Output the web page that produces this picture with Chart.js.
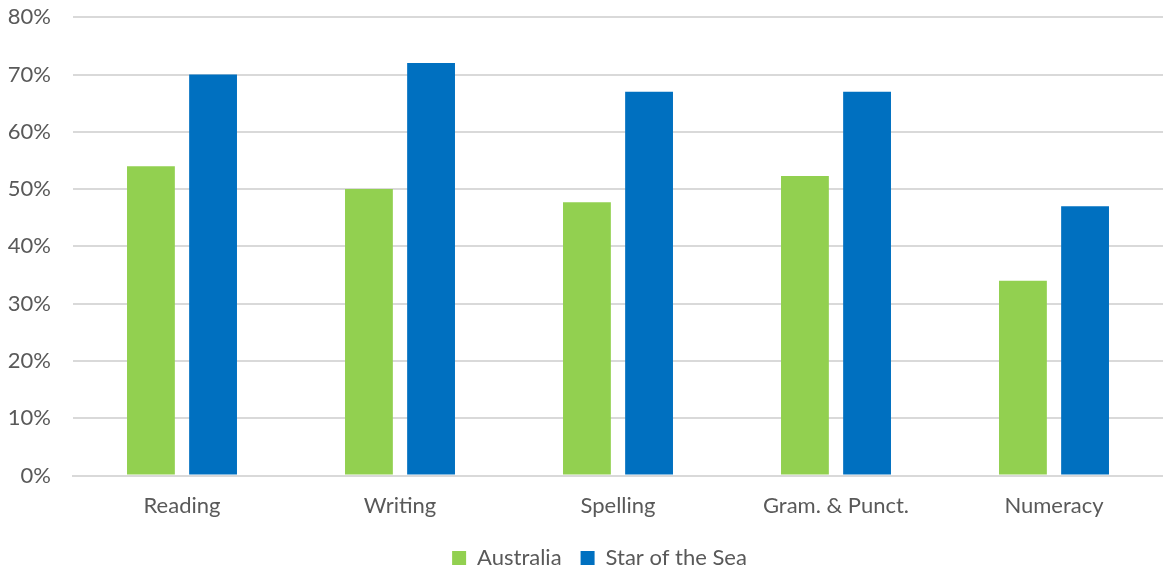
<!DOCTYPE html>
<html>
<head>
<meta charset="utf-8">
<script src="https://cdn.jsdelivr.net/npm/chart.js@4"></script>
<style>
  html, body { margin: 0; padding: 0; background: #fff; overflow: hidden; }
  #wrap { width: 1163px; height: 571px; overflow: hidden; }
  #chart { display: block; margin-top: -18px; }
</style>
</head>
<body>
<div id="wrap"><canvas id="chart" width="1163" height="597"></canvas></div>
<script>
const categories = ['Reading', 'Writing', 'Spelling', 'Gram. & Punct.', 'Numeracy'];
const australia = [54, 50, 47.7, 52.3, 34];
const starOfTheSea = [70, 72, 67, 67, 47];
const yTicks = [0, 10, 20, 30, 40, 50, 60, 70, 80];

const fontFamily = "Lato, 'Open Sans', sans-serif";
const textColor = '#595959';

// centre the legend a little right of the canvas middle, like the original
const legendShift = {
    id: 'legendShift',
    afterLayout(chart) {
        if (chart.legend) chart.legend.left += 30;
    }
};

document.addEventListener('DOMContentLoaded', function() {
    const ctx = document.querySelector('#chart').getContext('2d');
    new Chart(ctx, {
        type: 'bar',
        data: {
            labels: categories,
            datasets: [
                {
                    label: 'Australia',
                    data: australia,
                    backgroundColor: '#92D050',
                    barPercentage: 0.77,
                    categoryPercentage: 0.57
                },
                {
                    label: 'Star of the Sea',
                    data: starOfTheSea,
                    backgroundColor: '#0070C0',
                    barPercentage: 0.77,
                    categoryPercentage: 0.57
                }
            ]
        },
        plugins: [legendShift],
        options: {
            responsive: false,
            animation: false,
            layout: { padding: { top: 0, right: 0, left: 6, bottom: 0 } },
            plugins: {
                tooltip: { enabled: false },
                legend: {
                    position: 'bottom',
                    labels: {
                        boxWidth: 14,
                        boxHeight: 14,
                        padding: 19,
                        color: textColor,
                        font: { family: fontFamily, size: 22 }
                    }
                }
            },
            scales: {
                x: {
                    grid: { display: false },
                    border: { color: '#d9d9d9', width: 2 },
                    ticks: {
                        color: textColor,
                        padding: 9,
                        font: { family: fontFamily, size: 22 }
                    }
                },
                y: {
                    min: 0,
                    max: 80,
                    afterBuildTicks: function(axis) {
                        axis.ticks = yTicks.map(v => ({ value: v }));
                    },
                    afterFit: function(axis) { axis.width = 67; },
                    border: { display: false },
                    grid: { color: '#d9d9d9', lineWidth: 2, drawTicks: false },
                    ticks: {
                        color: textColor,
                        padding: 22,
                        font: { family: fontFamily, size: 22 },
                        callback: v => v + '%'
                    }
                }
            }
        }
    });
});
</script>
</body>
</html>
